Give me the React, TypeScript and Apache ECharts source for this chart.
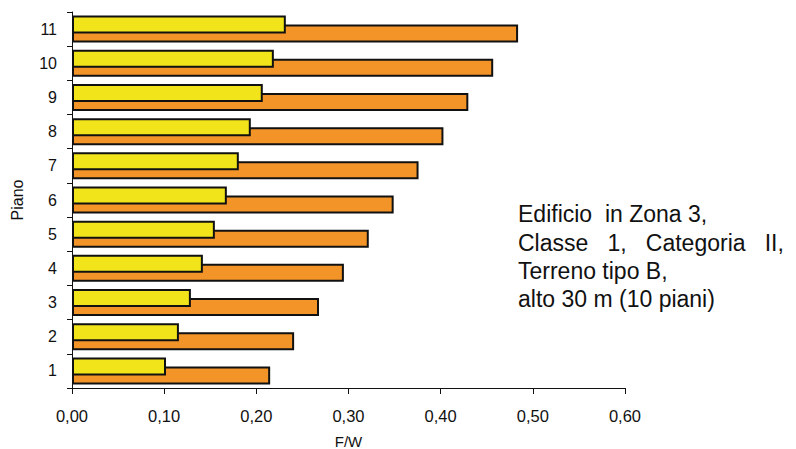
import React, { useEffect, useRef } from "react";
import * as echarts from "echarts";

const pianoCategories = ["1", "2", "3", "4", "5", "6", "7", "8", "9", "10", "11"];
const yellowValues = [0.102, 0.116, 0.129, 0.142, 0.155, 0.168, 0.181, 0.194, 0.207, 0.219, 0.232];
const orangeValues = [0.215, 0.241, 0.268, 0.295, 0.322, 0.349, 0.376, 0.403, 0.43, 0.457, 0.484];
const xTickMin = 0;
const xTickMax = 0.6;
const xTickStep = 0.1;
const noteLines = [
  "Edificio  in Zona 3,",
  "Classe   1,   Categoria   II,",
  "Terreno tipo B,",
  "alto 30 m (10 piani)",
];

const FONT = "Liberation Sans, Arial, Helvetica, sans-serif";

export default function App() {
  const ref = useRef<HTMLDivElement>(null);
  useEffect(() => {
    if (!ref.current) return;
    const chart = echarts.init(ref.current, null, { renderer: "svg" });
    chart.setOption({
      animation: false,
      backgroundColor: "#ffffff",
      grid: {
        left: 72,
        right: 171,
        top: 12,
        bottom: 61,
        containLabel: false,
        outerBoundsMode: "none",
      },
      xAxis: {
        type: "value",
        min: xTickMin,
        max: xTickMax,
        interval: xTickStep,
        name: "F/W",
        nameLocation: "middle",
        nameGap: 46,
        nameTextStyle: { color: "#111", fontSize: 15, fontFamily: FONT },
        axisLine: { show: true, lineStyle: { color: "#111", width: 1 } },
        axisTick: { show: true, length: 6, lineStyle: { color: "#111", width: 1 } },
        splitLine: { show: false },
        axisLabel: {
          color: "#111",
          fontSize: 16.5,
          fontFamily: FONT,
          margin: 19,
          formatter: (v: number) => v.toFixed(2).replace(".", ","),
        },
      },
      yAxis: {
        type: "category",
        data: pianoCategories,
        name: "Piano",
        nameLocation: "middle",
        nameGap: 47,
        nameRotate: 90,
        nameTextStyle: { color: "#111", fontSize: 16, fontFamily: FONT },
        axisLine: { show: true, lineStyle: { color: "#111", width: 1 } },
        axisTick: { show: true, length: 5, lineStyle: { color: "#111", width: 1 } },
        axisLabel: { color: "#111", fontSize: 16, fontFamily: FONT, margin: 15 },
        splitLine: { show: false },
      },
      series: [
        {
          name: "yellow",
          type: "bar",
          data: yellowValues,
          barWidth: 18,
          barGap: "-50%",
          z: 3,
          itemStyle: { color: "#F2E41A", borderColor: "#111", borderWidth: 2 },
        },
        {
          name: "orange",
          type: "bar",
          data: orangeValues,
          barWidth: 18,
          barGap: "-50%",
          z: 2,
          itemStyle: { color: "#F39428", borderColor: "#111", borderWidth: 2 },
        },
      ],
      graphic: [
        {
          type: "text",
          left: 518,
          top: 200,
          style: {
            text: noteLines.join("\n"),
            fontSize: 23,
            lineHeight: 28.4,
            fontFamily: FONT,
            fill: "#111",
          },
        },
      ],
    });
    return () => chart.dispose();
  }, []);
  return <div ref={ref} style={{ width: 796, height: 449, position: "absolute", left: 0, top: 0 }} />;
}
